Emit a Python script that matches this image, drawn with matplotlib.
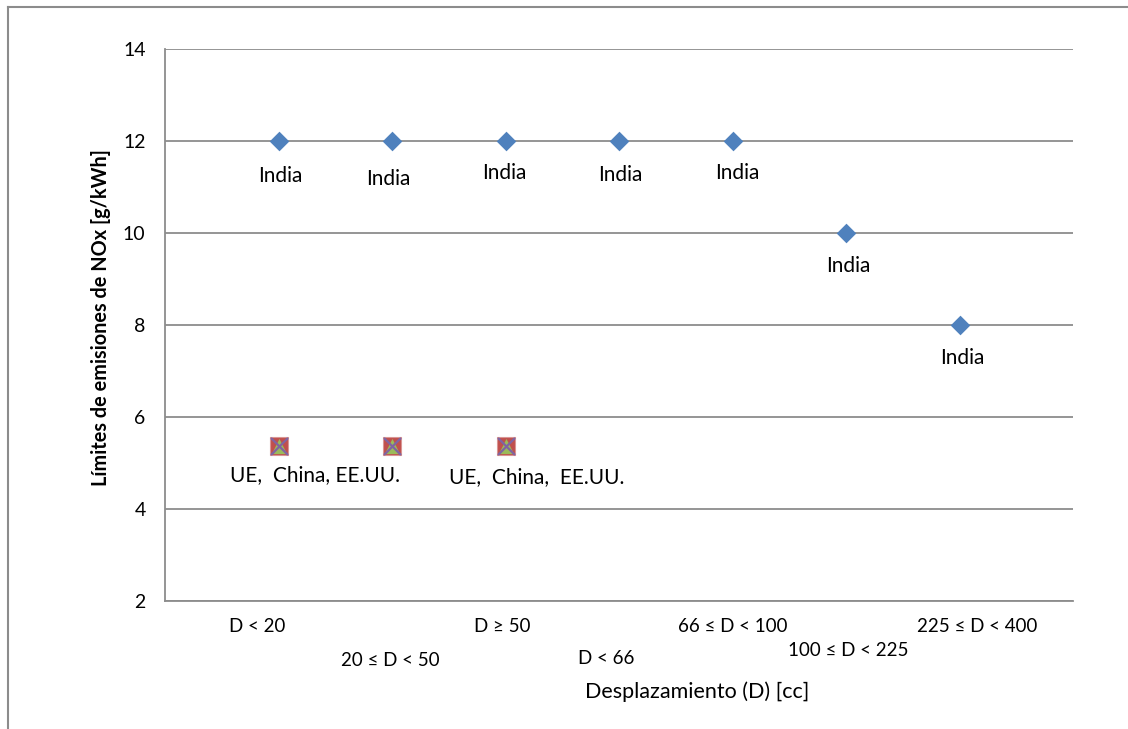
import numpy as np
import matplotlib
matplotlib.use("Agg")
import matplotlib.pyplot as plt

plt.rcParams["font.family"] = ["Lato", "DejaVu Sans"]

# NOx emission limits by displacement class
categories = ["D < 20", "20 ≤ D < 50", "D ≥ 50", "D < 66",
              "66 ≤ D < 100", "100 ≤ D < 225", "225 ≤ D < 400"]
india = [12, 12, 12, 12, 12, 10, 8]
ue = [5.36, 5.36, 5.36]
china = [5.36, 5.36, 5.36]
eeuu = [5.36, 5.36, 5.36]
group_label = ["UE,  China, EE.UU.", "UE,  China,  EE.UU."]

x_india = np.arange(1, len(india) + 1)
x_group = np.arange(1, len(ue) + 1)

BLUE, RED, GREEN, PURPLE = "#4F81BD", "#C0504D", "#9BBB59", "#8064A2"
GRID = "#8C8C8C"
FS = 15

fig = plt.figure(figsize=(11.28, 7.29), dpi=100)
ax = fig.add_axes([165 / 1128, 1 - 601 / 729, (1073 - 165) / 1128, (601 - 49) / 729])

ax.scatter(x_india, india, marker="D", s=100, color=BLUE, zorder=4, linewidths=0)
ax.scatter(x_group, ue, marker="s", s=150, color=RED, edgecolors="#D99694",
           linewidths=0.8, zorder=3)
ax.scatter(x_group, china, marker="^", s=120, color=GREEN, zorder=4, linewidths=0)
ax.scatter(x_group, eeuu, marker="x", s=150, color=PURPLE, zorder=5, linewidths=1.6)

# "India" labels under each diamond (offsets in pixels)
india_off = [(2, 35), (-4, 38), (-1, 32), (1, 34), (5, 32), (2, 33), (3, 33)]
for xi, yi, (dx, dy) in zip(x_india, india, india_off):
    ax.annotate("India", (xi, yi), xytext=(dx * 0.72, -dy * 0.72),
                textcoords="offset points", ha="center", va="center", fontsize=FS)

group_off = [(36, 29), (31, 31)]
for xi, txt, (dx, dy) in zip([1, 3], group_label, group_off):
    ax.annotate(txt, (xi, ue[0]), xytext=(dx * 0.72, -dy * 0.72),
                textcoords="offset points", ha="center", va="center", fontsize=FS)

# staggered category names below the axis
cat_off = [(-21, 26), (-2, 59), (-3, 26), (-13, 58), (0, 26), (2, 49), (18, 26)]
for xi, txt, (dx, dy) in zip(x_india, categories, cat_off):
    ax.annotate(txt, (xi, 0), xycoords=("data", "axes fraction"),
                xytext=(dx * 0.72, -dy * 0.72), textcoords="offset points",
                ha="center", va="center", fontsize=13.5)

ax.set_xlim(0, 8)
ax.set_ylim(2, 14)
ax.set_yticks(np.arange(2, 15, 2))
ax.set_xticks([])
ax.yaxis.grid(True, color=GRID, lw=1.3)
ax.set_axisbelow(True)
ax.tick_params(axis="y", length=0, pad=14, labelsize=14)
for side in ["top", "right"]:
    ax.spines[side].set_visible(False)
for side in ["left", "bottom"]:
    ax.spines[side].set_color(GRID)
    ax.spines[side].set_linewidth(1.3)

fig.text(101 / 1128, 1 - 318 / 729, "Límites de emisiones de NOx [g/kWh]",
         rotation=90, ha="center", va="center", fontsize=14.3, fontweight="bold")
fig.text(697 / 1128, 1 - 692 / 729, "Desplazamiento (D) [cc]",
         ha="center", va="center", fontsize=15.5)

# chart border (left and top edges)
fig.add_artist(plt.Line2D([8 / 1128, 8 / 1128], [0, 1 - 7 / 729],
                          transform=fig.transFigure, color=GRID, lw=1.5))
fig.add_artist(plt.Line2D([8 / 1128, 1], [1 - 7 / 729, 1 - 7 / 729],
                          transform=fig.transFigure, color=GRID, lw=1.5))

fig.savefig("out.png", dpi=100)
